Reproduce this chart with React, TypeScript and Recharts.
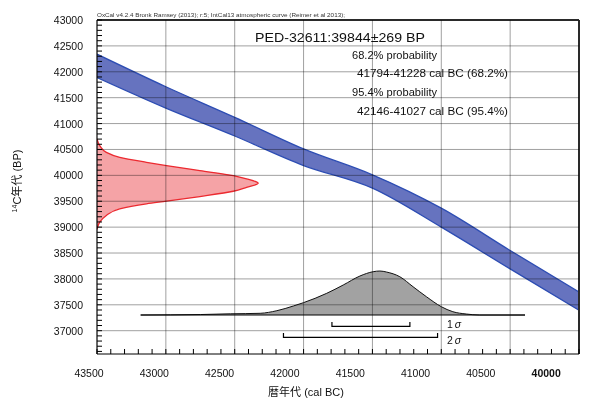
import React from "react";
import { ComposedChart, Area, Line, XAxis, YAxis, CartesianGrid, ReferenceLine } from "recharts";

const FONT = '"Liberation Sans", "Noto Sans CJK JP", sans-serif';

// axes (cal BC runs right-to-left, 14C BP bottom-to-top)
const xTicks = [43500, 43000, 42500, 42000, 41500, 41000, 40500, 40000];
const yTicks = [37000, 37500, 38000, 38500, 39000, 39500, 40000, 40500, 41000, 41500, 42000, 42500, 43000];
const xAllTicks = Array.from({ length: 36 }, (_, i) => 43500 - i * 100);
const yAllTicks = Array.from({ length: 65 }, (_, i) => 36600 + i * 100);

// IntCal13 calibration band (1 sigma envelope)
const curveYears = [43500, 43000, 42500, 42000, 41500, 41000, 40500, 40000];
const curveUpper = [42340, 41711, 41120, 40510, 40010, 39366, 38549, 37748];
const curveLower = [41890, 41300, 40760, 40189, 39752, 39000, 38193, 37395];

// measured 14C age distribution (relative probability)
const bpAges = [40703, 40574, 40445, 40348, 40252, 40189, 40092, 39996, 39932, 39847, 39770, 39693, 39591, 39501, 39450, 39354, 39225, 39096, 38955];
const bpProb = [0, 0.017, 0.058, 0.141, 0.307, 0.431, 0.638, 0.845, 0.928, 1, 0.928, 0.845, 0.638, 0.431, 0.307, 0.141, 0.058, 0.017, 0];

// calibrated age distribution (relative probability)
const calYears = [43183, 42749, 42532, 42315, 42194, 42074, 42001, 41832, 41712, 41591, 41495, 41446, 41398, 41301, 41205, 41108, 41000, 40916, 40819, 40723, 40392];
const calProb = [0, 0.011, 0.027, 0.039, 0.098, 0.205, 0.28, 0.493, 0.682, 0.886, 0.984, 1, 0.977, 0.87, 0.643, 0.416, 0.189, 0.075, 0.023, 0, 0];

// ranges
const sigma1 = [41794, 41228];
const sigma2 = [42146, 41027];

const bandData = curveYears.map((year, i) => ({ year, band: [curveLower[i], curveUpper[i]] }));
const redData = bpAges.map((bp, i) => ({ bp, p: bpProb[i] }));
const grayData = calYears.map((year, i) => ({ year, p: calProb[i] }));
const baseData = [{ year: calYears[0], p: 0 }, { year: calYears[calYears.length - 1], p: 0 }];
const bracket = (r: number[], lo: number, hi: number) => [
  { year: r[0], v: hi }, { year: r[0], v: lo }, { year: r[1], v: lo }, { year: r[1], v: hi },
];

const W = 590;
const H = 408;
const M = { top: 20, right: 11, bottom: 54, left: 97 };
const BP_DOMAIN = [36550, 43000];

// bottom axis: inward tick every 100 yr, label every 500
function XTick({ x, y, payload }: any) {
  const v = payload.value as number;
  const dx = -8 - ((43500 - v) / 500) * 3.55;
  return (
    <g>
      <line x1={x} x2={x} y1={y} y2={y - 5} stroke="#000" />
      {v % 500 === 0 && (
        <text x={x + dx} y={y + 22.5} textAnchor="middle" fontSize={10.5} fontFamily={FONT}
          fontWeight={v === 40000 ? 700 : 400} fill="#111">
          {v}
        </text>
      )}
    </g>
  );
}

// left axis: inward tick every 100 BP, label every 500
function YTick({ x, y, payload }: any) {
  const v = payload.value as number;
  return (
    <g>
      <line x1={x + 14} x2={x + 19} y1={y} y2={y} stroke="#000" />
      {v % 500 === 0 && (
        <text x={x} y={y} textAnchor="end" dominantBaseline="central" fontSize={10.5}
          fontFamily={FONT} fill="#111">
          {v}
        </text>
      )}
    </g>
  );
}

export default function App() {
  return (
    <div style={{ position: "relative", width: W, height: H, background: "#fff" }}>
      <style>{`body{margin:0}.recharts-cartesian-grid line{mix-blend-mode:multiply}`}</style>

      <div style={{ position: "absolute", left: 0, top: 0 }}>
        <ComposedChart layout="vertical" width={W} height={H} margin={M} data={redData}>
          <XAxis type="number" domain={[0, 2.99]} hide allowDataOverflow />
          <YAxis type="number" dataKey="bp" domain={BP_DOMAIN} reversed hide allowDataOverflow />
          <Area dataKey="p" type="monotone" stroke="#ec2a30" strokeWidth={1.3} fill="#f5a3a6"
            fillOpacity={1} baseValue={0} isAnimationActive={false} dot={false} activeDot={false} />
        </ComposedChart>
      </div>

      <div style={{ position: "absolute", left: 0, top: 0 }}>
        <ComposedChart width={W} height={H} margin={{ top: 20, right: 11, bottom: 0, left: 0 }}>
          <XAxis xAxisId="year" type="number" dataKey="year" domain={[40000, 43500]} reversed
            ticks={xAllTicks} interval={0} tickSize={0} tickMargin={0} height={54}
            axisLine={{ stroke: "#000" }} tickLine={false} tick={<XTick />} allowDataOverflow />
          <YAxis yAxisId="bp" type="number" domain={BP_DOMAIN} ticks={yAllTicks} interval={0}
            width={97} tickSize={0} tickMargin={14} axisLine={{ stroke: "#000" }}
            tickLine={false} tick={<YTick />} allowDataOverflow />
          <YAxis yAxisId="prob" type="number" domain={[-0.886, 6.705]} hide allowDataOverflow />

          <Area xAxisId="year" yAxisId="bp" data={bandData} dataKey="band" type="monotone"
            stroke="#2d4db3" strokeWidth={1.3} fill="#6673bf" fillOpacity={1}
            isAnimationActive={false} dot={false} activeDot={false} />
          <Area xAxisId="year" yAxisId="prob" data={grayData} dataKey="p" type="monotone"
            baseValue={0} stroke="#111" strokeWidth={1} fill="#a2a2a2" fillOpacity={1}
            isAnimationActive={false} dot={false} activeDot={false} />
          <Line xAxisId="year" yAxisId="prob" data={baseData} dataKey="p" stroke="#000"
            strokeWidth={1.2} dot={false} activeDot={false} isAnimationActive={false} />
          <Line xAxisId="year" yAxisId="bp" data={bracket(sigma1, 37085, 37170)} dataKey="v"
            type="linear" stroke="#000" strokeWidth={1.2} dot={false} activeDot={false}
            isAnimationActive={false} />
          <Line xAxisId="year" yAxisId="bp" data={bracket(sigma2, 36870, 36955)} dataKey="v"
            type="linear" stroke="#000" strokeWidth={1.2} dot={false} activeDot={false}
            isAnimationActive={false} />

          <CartesianGrid xAxisId="year" yAxisId="bp" stroke="#a0a0a0" strokeWidth={1}
            horizontalValues={yTicks} verticalValues={xTicks}
            {...({ zIndex: 2000 } as any)} />
          <ReferenceLine xAxisId="year" yAxisId="bp" y={43000} stroke="#333" strokeWidth={2} />
          <ReferenceLine xAxisId="year" yAxisId="bp" x={40000} stroke="#333" strokeWidth={2} />
        </ComposedChart>
      </div>

      <svg width={W} height={H} style={{ position: "absolute", left: 0, top: 0, pointerEvents: "none" }}
        fontFamily={FONT}>
        <text x={97} y={15.3} dominantBaseline="central" fontSize={6} textLength={248}
          lengthAdjust="spacingAndGlyphs" fill="#333">
          OxCal v4.2.4 Bronk Ramsey (2013); r:5; IntCal13 atmospheric curve (Reimer et al 2013);
        </text>
        <text x={255} y={37.5} dominantBaseline="central" fontSize={13} textLength={170}
          lengthAdjust="spacingAndGlyphs" fill="#111">PED-32611:39844±269 BP</text>
        <text x={352} y={55} dominantBaseline="central" fontSize={10} textLength={85}
          lengthAdjust="spacingAndGlyphs" fill="#111">68.2% probability</text>
        <text x={357} y={73.5} dominantBaseline="central" fontSize={10} textLength={151}
          lengthAdjust="spacingAndGlyphs" fill="#111">41794-41228 cal BC (68.2%)</text>
        <text x={352} y={92.5} dominantBaseline="central" fontSize={10} textLength={85}
          lengthAdjust="spacingAndGlyphs" fill="#111">95.4% probability</text>
        <text x={357} y={111.5} dominantBaseline="central" fontSize={10} textLength={151}
          lengthAdjust="spacingAndGlyphs" fill="#111">42146-41027 cal BC (95.4%)</text>
        <text x={447} y={323.5} dominantBaseline="central" fontSize={10.5} fill="#111">
          1<tspan fontStyle="italic" dx={2}>σ</tspan>
        </text>
        <text x={447} y={340} dominantBaseline="central" fontSize={10.5} fill="#111">
          2<tspan fontStyle="italic" dx={2}>σ</tspan>
        </text>
        <text x={306} y={391.5} textAnchor="middle" dominantBaseline="central" fontSize={11} fill="#111">
          暦年代 (cal BC)
        </text>
        <text transform="translate(17,181) rotate(-90)" textAnchor="middle" dominantBaseline="central"
          fontSize={11} fill="#111">
          <tspan fontSize={7} dy={-3}>14</tspan><tspan dy={3}>C年代 (BP)</tspan>
        </text>
      </svg>
    </div>
  );
}
